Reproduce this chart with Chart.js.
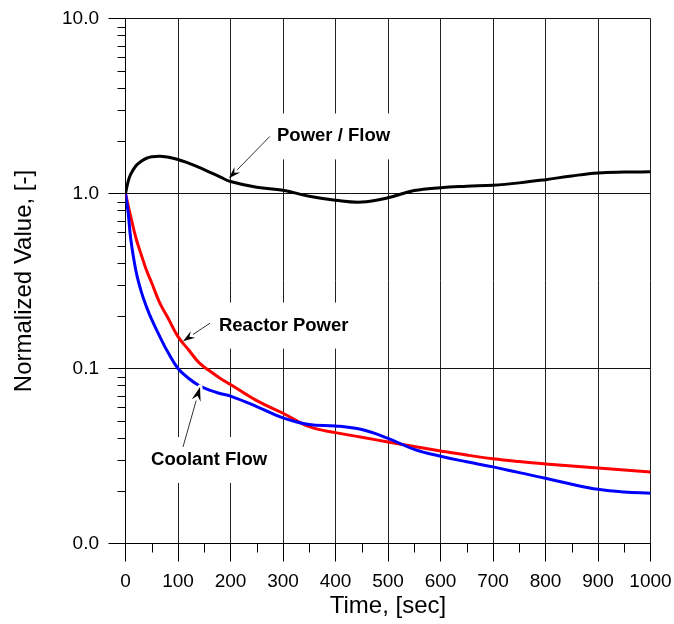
<!DOCTYPE html>
<html>
<head>
<meta charset="utf-8">
<script src="https://cdn.jsdelivr.net/npm/chart.js@4.4.1/dist/chart.umd.min.js"></script>
<style>
  html, body { margin: 0; padding: 0; background: #fff; }
  #wrap { width: 674px; height: 624px; }
</style>
</head>
<body>
<div id="wrap"><canvas id="chart" width="674" height="624"></canvas></div>
<script>
// Transient after trip: time in seconds, normalized values
const timeSec = [0, 5, 10, 20, 30, 40, 50, 65, 80, 100, 120, 140, 160, 180, 200, 250, 300, 350, 400, 450, 500, 550, 600, 650, 700, 750, 800, 850, 900, 950, 1000];
const powerFlow    = [1.0, 1.17, 1.29, 1.44, 1.53, 1.59, 1.62, 1.635, 1.615, 1.565, 1.49, 1.41, 1.325, 1.245, 1.17, 1.085, 1.043, 0.964, 0.915, 0.893, 0.945, 1.04, 1.08, 1.10, 1.115, 1.15, 1.20, 1.26, 1.31, 1.325, 1.33];
const reactorPower = [1.0, 0.856, 0.737, 0.555, 0.447, 0.364, 0.308, 0.238, 0.197, 0.152, 0.128, 0.108, 0.097, 0.088, 0.081, 0.0655, 0.0555, 0.0465, 0.043, 0.0405, 0.038, 0.0358, 0.0338, 0.032, 0.0305, 0.0294, 0.0285, 0.0277, 0.027, 0.0263, 0.0256];
const coolantFlow  = [1.0, 0.78, 0.55, 0.36, 0.275, 0.225, 0.19, 0.153, 0.125, 0.1, 0.088, 0.080, 0.0752, 0.072, 0.0695, 0.0606, 0.0522, 0.0478, 0.047, 0.0448, 0.0399, 0.0345, 0.0315, 0.0293, 0.0274, 0.0254, 0.0236, 0.0218, 0.0204, 0.0197, 0.0194];

const seriesNames = ['Power / Flow', 'Reactor Power', 'Coolant Flow'];

// Axis ticks
const xMajorTicks = [0, 100, 200, 300, 400, 500, 600, 700, 800, 900, 1000];
const xTickLabels = ['0', '100', '200', '300', '400', '500', '600', '700', '800', '900', '1000'];
const xMinorTicks = [50, 150, 250, 350, 450, 550, 650, 750, 850, 950];
const yMajorTicks = [0.01, 0.1, 1, 10];
const yTickLabels = ['0.0', '0.1', '1.0', '10.0'];
const yMinorFactors = [2, 3, 4, 5, 6, 7, 8, 9];

// Call-out labels with arrows, placed in data coordinates
const callouts = [
  { text: seriesNames[0], textAt: [288.6, 2.12],  tail: [275, 2.12],     tip: [197, 1.221],    head: 12, halo: false },
  { text: seriesNames[1], textAt: [178, 0.1758],  tail: [161, 0.1816],   tip: [109.5, 0.1433], head: 12, halo: false },
  { text: seriesNames[2], textAt: [48.6, 0.030],  tail: [109.5, 0.0356], tip: [141.9, 0.0783], head: 14, halo: true }
];

const FONT = '"Liberation Sans", Arial, Helvetica, sans-serif';
const LABEL_FONT = 'bold 18.5px ' + FONT;

const toPoints = vals => timeSec.map((t, i) => ({ x: t, y: vals[i] }));

const crisp = v => Math.round(v) + 0.5;

const decorations = {
  id: 'decorations',
  beforeDatasetsDraw(chart) {
    const { ctx, scales: { x, y } } = chart;
    ctx.save();
    ctx.font = LABEL_FONT;
    ctx.fillStyle = '#fff';
    callouts.forEach(c => {
      const px = x.getPixelForValue(c.textAt[0]);
      const py = y.getPixelForValue(c.textAt[1]);
      const w = ctx.measureText(c.text).width;
      ctx.fillRect(px - 6, py - 23, w + 12, 46);
    });
    ctx.restore();
  },
  afterDatasetsDraw(chart) {
    const { ctx, scales: { x, y } } = chart;
    ctx.save();
    callouts.forEach(c => {
      const tx = x.getPixelForValue(c.tail[0]), ty = y.getPixelForValue(c.tail[1]);
      const hx = x.getPixelForValue(c.tip[0]),  hy = y.getPixelForValue(c.tip[1]);
      const ang = Math.atan2(hy - ty, hx - tx);
      const L = c.head, W = c.head * 0.33;
      const bx = hx - L * Math.cos(ang), by = hy - L * Math.sin(ang);
      const p1 = [bx + W * Math.sin(ang), by - W * Math.cos(ang)];
      const p2 = [bx - W * Math.sin(ang), by + W * Math.cos(ang)];
      // shaft
      ctx.strokeStyle = '#333';
      ctx.lineWidth = 1;
      ctx.beginPath();
      ctx.moveTo(tx, ty);
      ctx.lineTo(bx, by);
      ctx.stroke();
      // head
      ctx.beginPath();
      ctx.moveTo(hx, hy);
      ctx.lineTo(p1[0], p1[1]);
      ctx.lineTo(bx + 0.35 * L * Math.cos(ang), by + 0.35 * L * Math.sin(ang));
      ctx.lineTo(p2[0], p2[1]);
      ctx.closePath();
      if (c.halo) {
        ctx.strokeStyle = '#fff';
        ctx.lineWidth = 5;
        ctx.lineJoin = 'round';
        ctx.stroke();
      }
      ctx.fillStyle = '#000';
      ctx.fill();
      // text
      ctx.font = LABEL_FONT;
      ctx.textAlign = 'left';
      ctx.textBaseline = 'middle';
      ctx.fillText(c.text, x.getPixelForValue(c.textAt[0]), y.getPixelForValue(c.textAt[1]));
    });
    ctx.restore();
  },
  afterDraw(chart) {
    const { ctx, chartArea, scales: { x, y } } = chart;
    ctx.save();
    ctx.strokeStyle = '#000';
    ctx.lineWidth = 1;
    ctx.beginPath();
    // minor ticks on the value axis
    for (let i = 0; i < yMajorTicks.length - 1; i++) {
      yMinorFactors.forEach(f => {
        const py = crisp(y.getPixelForValue(f * yMajorTicks[i]));
        ctx.moveTo(chartArea.left - 8, py);
        ctx.lineTo(chartArea.left, py);
      });
    }
    // minor ticks on the time axis
    xMinorTicks.forEach(t => {
      const px = crisp(x.getPixelForValue(t));
      ctx.moveTo(px, chartArea.bottom);
      ctx.lineTo(px, chartArea.bottom + 9);
    });
    ctx.stroke();
    ctx.restore();
  }
};

const lineStyle = color => ({
  borderColor: color,
  backgroundColor: color,
  borderWidth: 3,
  pointRadius: 0,
  fill: false,
  tension: 0.4
});

new Chart(document.getElementById('chart'), {
  type: 'line',
  data: {
    datasets: [
      { label: seriesNames[0], data: toPoints(powerFlow),    ...lineStyle('#000000') },
      { label: seriesNames[2], data: toPoints(coolantFlow),  ...lineStyle('#0000ff') },
      { label: seriesNames[1], data: toPoints(reactorPower), ...lineStyle('#ff0000') }
    ]
  },
  options: {
    responsive: false,
    animation: false,
    devicePixelRatio: 1,
    layout: { padding: { left: 0, top: 18.5, right: 23.5, bottom: 0 } },
    plugins: { legend: { display: false }, tooltip: { enabled: false } },
    scales: {
      x: {
        type: 'linear',
        min: 0,
        max: 1000,
        afterBuildTicks: scale => { scale.ticks = xMajorTicks.map(v => ({ value: v })); },
        afterFit: scale => { scale.height = 80.5; scale.paddingLeft = 0; scale.paddingRight = 0; },
        ticks: {
          autoSkip: false,
          maxRotation: 0,
          padding: 9,
          color: '#000',
          font: { family: FONT, size: 19 },
          callback: v => xTickLabels[xMajorTicks.indexOf(v)]
        },
        grid: { color: '#222', lineWidth: 1, tickLength: 18, tickColor: '#000', drawTicks: true },
        border: { display: true, color: '#000', width: 1 },
        title: {
          display: true,
          text: 'Time, [sec]',
          color: '#000',
          font: { family: FONT, size: 24 },
          padding: { top: 0, bottom: 3.6 }
        }
      },
      y: {
        type: 'logarithmic',
        min: 0.01,
        max: 10,
        afterBuildTicks: scale => { scale.ticks = yMajorTicks.map(v => ({ value: v, major: true })); },
        afterFit: scale => { scale.width = 125.5; scale.paddingTop = 0; scale.paddingBottom = 0; },
        ticks: {
          autoSkip: false,
          padding: 9.5,
          color: '#000',
          font: { family: FONT, size: 19 },
          callback: v => yTickLabels[yMajorTicks.indexOf(v)]
        },
        grid: { color: '#111', lineWidth: 1, tickLength: 17, tickColor: '#000', drawTicks: true },
        border: { display: true, color: '#000', width: 1 },
        title: {
          display: true,
          text: 'Normalized Value, [-]',
          color: '#000',
          font: { family: FONT, size: 24 },
          padding: { top: 10, bottom: 0 }
        }
      }
    }
  },
  plugins: [decorations]
});
</script>
</body>
</html>
